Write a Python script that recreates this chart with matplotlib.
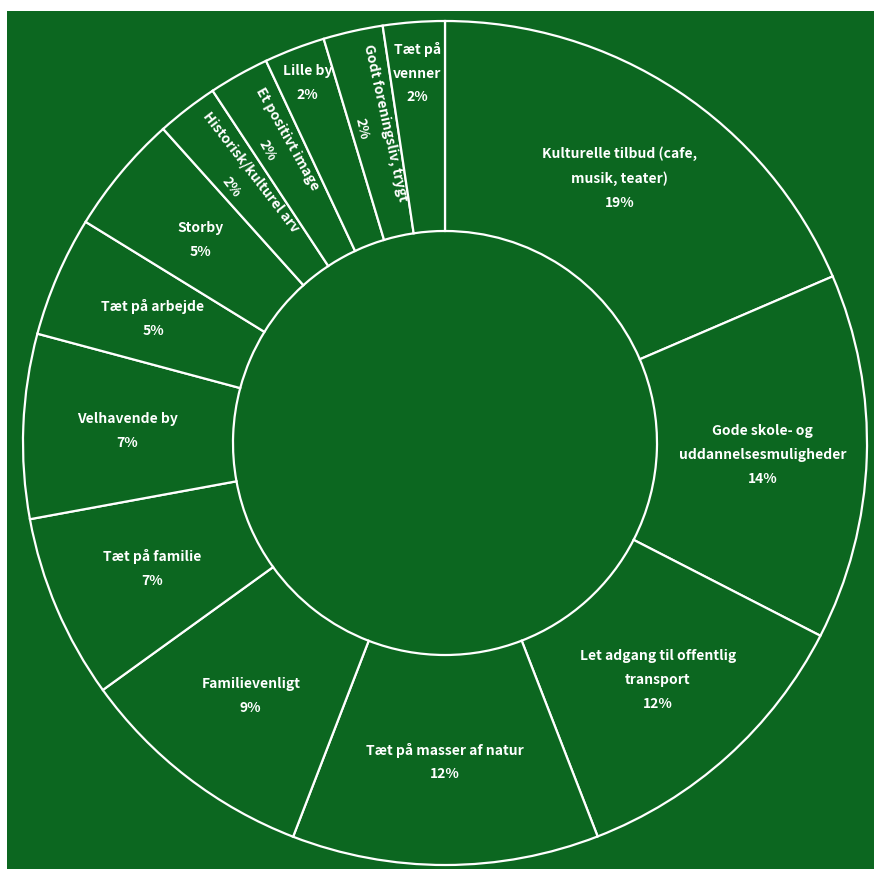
import numpy as np
import matplotlib.pyplot as plt

labels = ['Kulturelle tilbud (cafe,\nmusik, teater)',
          'Gode skole- og\nuddannelsesmuligheder',
          'Let adgang til offentlig\ntransport',
          'Tæt på masser af natur',
          'Familievenligt',
          'Tæt på familie',
          'Velhavende by',
          'Tæt på arbejde',
          'Storby',
          'Historisk/kulturel arv',
          'Et positivt image',
          'Lille by',
          'Godt foreningsliv, trygt',
          'Tæt på\nvenner']
shares = [18.54, 14.01, 11.56, 11.75, 9.19, 7.06, 7.06, 4.61, 4.58,
          2.36, 2.31, 2.33, 2.28, 2.36]

green = '#0c6720'
plt.rcParams['font.family'] = ['Noto Sans CJK JP', 'DejaVu Sans']

fig = plt.figure(figsize=(8.74, 8.70), dpi=100)
ax = fig.add_axes([7 / 874, 0, 867 / 874, 858 / 870])
ax.set_facecolor(green)

cx, cy = 445, 426
r_out, r_in = 422, 212
wedges, _ = ax.pie(shares, center=(cx, cy), radius=r_out, startangle=90,
                   counterclock=False, colors=[green] * len(shares),
                   wedgeprops=dict(width=r_out - r_in, edgecolor='white',
                                   linewidth=1.6), frame=True)
ax.set_xlim(7, 874)
ax.set_ylim(0, 858)
ax.set_aspect('auto')
for s in ax.spines.values():
    s.set_visible(False)
ax.set_xticks([])
ax.set_yticks([])

# label radius / rotation per slice
label_r = [318, 318, 318, 318, 318, 318, 318, 318, 318, 334, 343, 386, 326, 372]
rotated = [False] * 9 + [True, True, False, True, False]

for w, lab, v, r, rot in zip(wedges, labels, shares, label_r, rotated):
    mid = np.deg2rad((w.theta1 + w.theta2) / 2)
    x = cx + r * np.cos(mid)
    y = cy + r * np.sin(mid)
    angle = np.rad2deg(mid) - 180 if rot else 0
    ax.text(x, y, f'{lab}\n{round(v)}%', ha='center', va='center',
            rotation=angle, rotation_mode='anchor', color='white',
            fontsize=10, fontweight='bold', linespacing=1.9)

fig.savefig('out.png', dpi=100, facecolor='white')
